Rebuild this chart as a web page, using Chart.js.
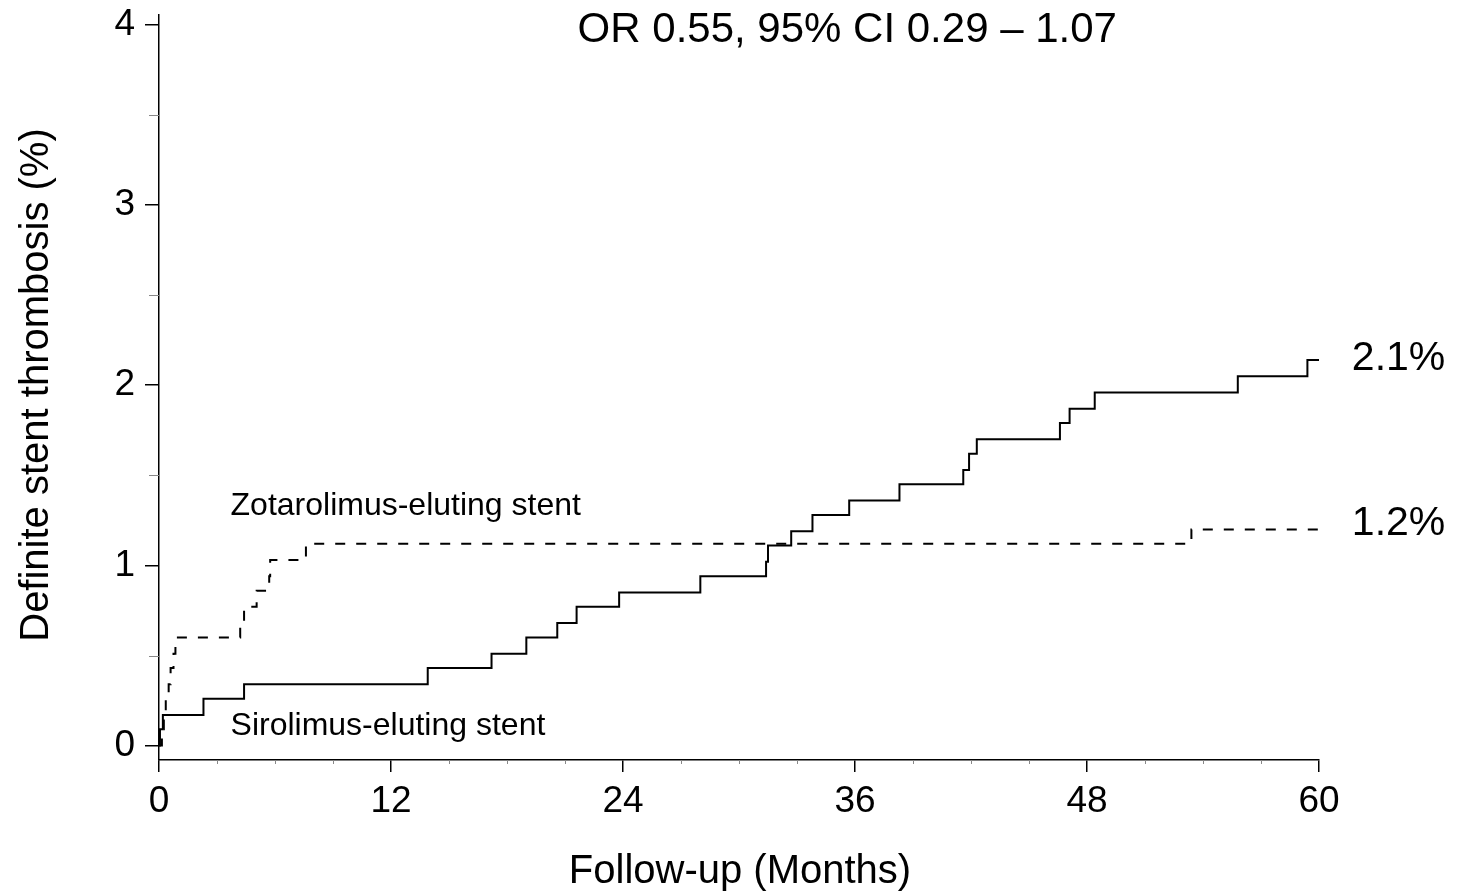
<!DOCTYPE html>
<html>
<head>
<meta charset="utf-8">
<script src="https://cdn.jsdelivr.net/npm/chart.js@4"></script>
<style>
  html, body { margin: 0; padding: 0; background: #fff; }
  #wrap { width: 1459px; height: 894px; position: relative; }
</style>
</head>
<body>
<div id="wrap"><canvas id="km"></canvas></div>
<script>
// Sirolimus-eluting stent (solid line)
const siroMonths = [0, 0.05, 0.2, 2.3, 4.4, 13.9, 17.2, 19.0, 20.6, 21.6, 23.8, 28.0, 31.4, 31.5, 32.7, 33.8, 35.7, 38.3, 41.6, 41.9, 42.3, 46.6, 47.1, 48.4, 55.8, 59.4, 60];
const siroPct    = [0, 0.09, 0.17, 0.26, 0.34, 0.43, 0.51, 0.60, 0.68, 0.77, 0.85, 0.94, 1.02, 1.11, 1.19, 1.28, 1.36, 1.45, 1.53, 1.62, 1.70, 1.79, 1.87, 1.96, 2.05, 2.14, 2.14];

// Zotarolimus-eluting stent (dashed line)
const zotaMonths = [0, 0.15, 0.25, 0.35, 0.5, 0.6, 0.75, 0.85, 4.2, 4.4, 5.05, 5.7, 5.75, 7.6, 53.4, 60];
const zotaPct    = [0, 0.09, 0.17, 0.26, 0.34, 0.43, 0.51, 0.60, 0.69, 0.77, 0.86, 0.94, 1.03, 1.12, 1.20, 1.20];

const xTicks = [0, 12, 24, 36, 48, 60];
const yTicks = [0, 1, 2, 3, 4];

const toPoints = (xs, ys) => xs.map((x, i) => ({ x: x, y: ys[i] }));

const FONT = '"Liberation Sans", Arial, sans-serif';

// extra texts: title, labels, axis titles
const textPlugin = {
  id: 'texts',
  afterDraw(chart) {
    const { ctx, chartArea, scales: { x, y } } = chart;
    ctx.save();
    ctx.fillStyle = '#000';
    ctx.textBaseline = 'middle';

    ctx.font = '42px ' + FONT;
    ctx.textAlign = 'center';
    ctx.fillText('OR 0.55, 95% CI 0.29 \u2013 1.07', x.getPixelForValue(35.6), 30);

    ctx.textAlign = 'left';
    ctx.font = '32px ' + FONT;
    ctx.fillText('Zotarolimus-eluting stent', x.getPixelForValue(3.7), y.getPixelForValue(1.33));
    ctx.fillText('Sirolimus-eluting stent', x.getPixelForValue(3.7), y.getPixelForValue(0.105));

    ctx.font = '41px ' + FONT;
    ctx.fillText('2.1%', x.getPixelForValue(61.7), y.getPixelForValue(2.15));
    ctx.fillText('1.2%', x.getPixelForValue(61.7), y.getPixelForValue(1.23));

    // axis titles
    ctx.font = '40px ' + FONT;
    ctx.textAlign = 'center';
    ctx.fillText('Follow-up (Months)', 740, 872);
    ctx.translate(37, 385);
    ctx.rotate(-Math.PI / 2);
    ctx.fillText('Definite stent thrombosis (%)', 0, 0);
    ctx.restore();

    // minor ticks
    ctx.save();
    ctx.strokeStyle = '#888';
    ctx.lineWidth = 1;
    ctx.beginPath();
    for (let m = 3; m < 60; m += 3) {
      if (m % 12 === 0) continue;
      const px = Math.round(x.getPixelForValue(m)) + 0.5;
      ctx.moveTo(px, chartArea.bottom);
      ctx.lineTo(px, chartArea.bottom + 4);
    }
    for (let v = 0.5; v < 4; v += 1) {
      const py = Math.round(y.getPixelForValue(v)) + 0.5;
      ctx.moveTo(chartArea.left - 10, py);
      ctx.lineTo(chartArea.left, py);
    }
    ctx.stroke();
    ctx.restore();
  }
};

new Chart(document.getElementById('km'), {
  type: 'line',
  data: {
    datasets: [{
      label: 'Sirolimus-eluting stent',
      data: toPoints(siroMonths, siroPct),
      borderColor: '#000',
      borderWidth: 2,
      stepped: true,
      pointRadius: 0,
      fill: false
    }, {
      label: 'Zotarolimus-eluting stent',
      data: toPoints(zotaMonths, zotaPct),
      borderColor: '#000',
      borderWidth: 2,
      borderDash: [10, 11],
      stepped: true,
      pointRadius: 0,
      fill: false
    }]
  },
  options: {
    responsive: true,
    maintainAspectRatio: false,
    animation: false,
    layout: { padding: { top: 15, right: 140, left: 0, bottom: 0 } },
    plugins: {
      legend: { display: false },
      tooltip: { enabled: false }
    },
    scales: {
      x: {
        type: 'linear',
        min: 0,
        max: 60,
        afterFit: s => { s.height = 134; s.paddingLeft = 0; s.paddingRight = 0; },
        afterBuildTicks: s => { s.ticks = xTicks.map(v => ({ value: v })); },
        ticks: {
          color: '#000',
          font: { family: FONT, size: 37 },
          padding: 8,
          maxRotation: 0,
          autoSkip: false
        },
        grid: { drawOnChartArea: false, drawTicks: true, tickLength: 12, color: '#000', lineWidth: 1.5 },
        border: { display: true, color: '#000', width: 1.5 }
      },
      y: {
        type: 'linear',
        min: -0.08,
        max: 4.055,
        afterFit: s => { s.width = 159; s.paddingTop = 0; s.paddingBottom = 0; },
        afterBuildTicks: s => { s.ticks = yTicks.map(v => ({ value: v })); },
        ticks: {
          color: '#000',
          font: { family: FONT, size: 37 },
          padding: 10,
          autoSkip: false
        },
        grid: { drawOnChartArea: false, drawTicks: true, tickLength: 14, color: '#000', lineWidth: 1.5 },
        border: { display: true, color: '#000', width: 1.5 }
      }
    }
  },
  plugins: [textPlugin]
});
</script>
</body>
</html>
